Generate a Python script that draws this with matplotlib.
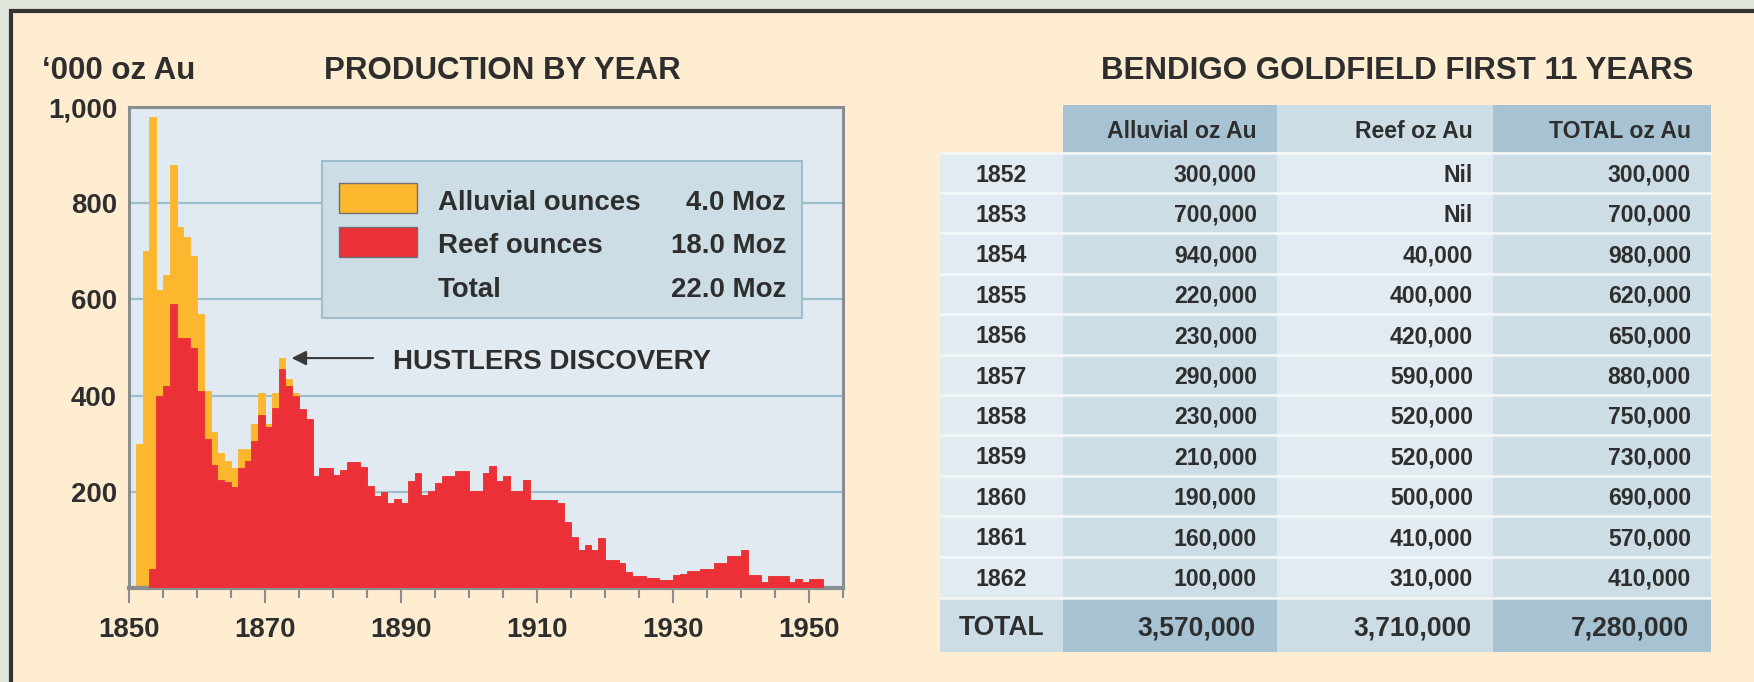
import matplotlib
matplotlib.use("Agg")
import matplotlib.pyplot as plt
from matplotlib import font_manager
from matplotlib.patches import Rectangle
import numpy as np

# the original uses a narrow bold face; fall back to a scaled-down Arial clone
_names = {f.name for f in font_manager.fontManager.ttflist}
if 'Liberation Sans Narrow' in _names:
    FAMILY, K, KT = 'Liberation Sans Narrow', 1.0, 1.0
else:
    FAMILY, K, KT = 'Liberation Sans', 0.865, 0.83
plt.rcParams['font.family'] = [FAMILY, 'DejaVu Sans']
plt.rcParams['font.weight'] = 'bold'

# --- production by year ('000 oz Au) ---
years = np.arange(1852, 1953)
reef = np.array([
    0, 0, 40, 400, 420, 590, 520, 520, 500, 410, 310,                 # 1852-1862
    255, 225, 220, 210, 250, 265, 305, 360, 335, 375, 455, 420, 400,  # 1863-1875
    372, 351,                                                         # 1876-1877
    233, 249, 249, 235, 245, 261, 261, 251, 212, 192, 200, 177,      # 1878-1889
    185, 176, 223, 240, 193, 202, 219, 233, 233, 243, 243,           # 1890-1900
    201, 201, 240, 254, 223, 233, 201, 201, 224, 183,                # 1901-1910
    183, 183, 183, 176, 137, 106, 78, 90, 80, 104,                   # 1911-1920
    59, 59, 52, 33, 24, 24, 21, 21, 16, 16,                          # 1921-1930
    26, 30, 36, 36, 40, 40, 52, 52, 67, 67,                          # 1931-1940
    78, 28, 26, 12, 25, 25, 25, 12, 19, 12, 19, 19,                  # 1941-1952
])
# alluvial only shows up until the late 1870s
alluvial_early = np.array([
    300, 700, 940, 220, 230, 290, 230, 210, 190, 160, 100,
    70, 55, 45, 40, 40, 25, 35, 45, 5, 30, 23, 15, 5, 0, 0,
])
hustlers_year = 1873

legend_labels = ['Alluvial ounces', 'Reef ounces', 'Total']
legend_values = ['4.0 Moz', '18.0 Moz', '22.0 Moz']

# --- first 11 years table ---
table_years = ['1852', '1853', '1854', '1855', '1856', '1857', '1858', '1859', '1860', '1861', '1862']
table_alluvial = [300000, 700000, 940000, 220000, 230000, 290000, 230000, 210000, 190000, 160000, 100000]
table_reef = [0, 0, 40000, 400000, 420000, 590000, 520000, 520000, 500000, 410000, 310000]
table_total = [300000, 700000, 980000, 620000, 650000, 880000, 750000, 730000, 690000, 570000, 410000]
table_sums = [3570000, 3710000, 7280000]
table_headers = ['Alluvial oz Au', 'Reef oz Au', 'TOTAL oz Au']

# colours
CREAM = '#feedd0'
OUTER = '#dfe5da'
FRAME = '#333333'
PLOT_BG = '#e1eaf0'
GRID = '#9ebdcd'
SPINE = '#8a8e90'
ORANGE = '#fcb72e'
RED = '#eb3038'
TEXT = '#2e2e2e'
DARK = '#a7c3d3'
MID = '#cddde6'
LIGHT = '#e2ebf1'

FS_TITLE = 26 * K
FS_LABEL = 23 * K
FS_TICK = 23 * K
FS_TABLE = 20 * KT
FS_TOTAL = 23 * KT

W, H = 1754, 682
fig = plt.figure(figsize=(W / 100, H / 100), dpi=100, facecolor=OUTER)

# background layer in pixel coordinates: frame, titles, table
bg = fig.add_axes([0, 0, 1, 1], zorder=0)
bg.set_xlim(0, W)
bg.set_ylim(H, 0)
bg.set_axis_off()
bg.add_patch(Rectangle((11, 11), W + 50, H + 50, fc=CREAM, ec=FRAME, lw=3))

bg.text(42, 79, '\u2018000 oz Au', ha='left', va='baseline', fontsize=FS_TITLE, color=TEXT)
bg.text(324, 79, 'PRODUCTION BY YEAR', ha='left', va='baseline', fontsize=FS_TITLE, color=TEXT)
bg.text(1397, 79, 'BENDIGO GOLDFIELD FIRST 11 YEARS', ha='center', va='baseline',
        fontsize=FS_TITLE, color=TEXT)

col_x = [940, 1063, 1277, 1493, 1711]
row_top, row_h = 153, 40.4
head_top, head_bot = 105, 152
tot_top, tot_bot = 599, 652

head_cols = [None, DARK, MID, DARK]
row_cols = [LIGHT, MID, LIGHT, MID]
tot_cols = [MID, DARK, MID, DARK]
n_rows = len(table_years)

for j in range(4):
    x0, x1 = col_x[j], col_x[j + 1]
    if head_cols[j]:
        bg.add_patch(Rectangle((x0, head_top), x1 - x0, head_bot - head_top, fc=head_cols[j], lw=0))
    bg.add_patch(Rectangle((x0, row_top), x1 - x0, row_h * n_rows, fc=row_cols[j], lw=0))
    bg.add_patch(Rectangle((x0, tot_top), x1 - x0, tot_bot - tot_top, fc=tot_cols[j], lw=0))

sep_y = [row_top - 0.5 + row_h * i for i in range(n_rows)] + [tot_top - 1]
bg.hlines(sep_y, col_x[0], col_x[-1], color='#f4f7f9', lw=1.8)

cap = 0.36 * FS_TABLE * 100 / 72   # half cap height in px
for j, h in enumerate(table_headers):
    bg.text(col_x[j + 2] - 20, (head_top + head_bot) / 2 + cap + 1, h, ha='right', va='baseline',
            fontsize=FS_TABLE, color=TEXT)

def fmt(v):
    return 'Nil' if v == 0 else f'{v:,}'

for i in range(n_rows):
    base = row_top + row_h * i + row_h / 2 + cap
    bg.text((col_x[0] + col_x[1]) / 2, base, table_years[i], ha='center', va='baseline',
            fontsize=FS_TABLE, color=TEXT)
    for j, col in enumerate([table_alluvial, table_reef, table_total]):
        bg.text(col_x[j + 2] - 20, base, fmt(col[i]), ha='right', va='baseline',
                fontsize=FS_TABLE, color=TEXT)

base = (tot_top + tot_bot) / 2 + 0.36 * FS_TOTAL * 100 / 72
bg.text((col_x[0] + col_x[1]) / 2, base, 'TOTAL', ha='center', va='baseline',
        fontsize=FS_TOTAL, color=TEXT)
for j, v in enumerate(table_sums):
    bg.text(col_x[j + 2] - 22, base, fmt(v), ha='right', va='baseline',
            fontsize=FS_TOTAL, color=TEXT)

# bar chart
ax = fig.add_axes([129 / W, 1 - 588 / H, 714 / W, 481 / H], zorder=2)
ax.set_facecolor(PLOT_BG)
ax.set_xlim(1850, 1955)
ax.set_ylim(0, 1000)

for y in (200, 400, 600, 800):
    ax.axhline(y, color=GRID, lw=1.6, zorder=0)

alluvial = np.zeros(len(years))
alluvial[:len(alluvial_early)] = alluvial_early
total = reef + alluvial

ax.bar(years - 1, total, width=1, align='edge', color=ORANGE, ec=ORANGE, lw=0.6, zorder=2)
ax.bar(years - 1, reef, width=1, align='edge', color=RED, ec=RED, lw=0.6, zorder=3)

for s in ax.spines.values():
    s.set_color(SPINE)
    s.set_linewidth(2.2)
ax.spines['bottom'].set_linewidth(3)

ax.set_xticks(np.arange(1850, 1951, 20))
ax.set_xticks(np.arange(1850, 1956, 5), minor=True)
ax.tick_params(axis='x', which='major', length=11, width=1.5, color=SPINE,
               labelsize=FS_TICK, labelcolor=TEXT, pad=10)
ax.tick_params(axis='x', which='minor', length=7, width=1.5, color=SPINE)
ax.set_yticks([200, 400, 600, 800, 1000])
ax.set_yticklabels(['200', '400', '600', '800', '1,000'])
ax.tick_params(axis='y', length=0, pad=8.6, labelsize=FS_TICK, labelcolor=TEXT)

# legend box
ax.add_patch(Rectangle((0.270, 0.561), 0.673, 0.326, transform=ax.transAxes,
                       fc=MID, ec=GRID, lw=1.5, zorder=5))
ax.add_patch(Rectangle((0.294, 0.780), 0.109, 0.062, transform=ax.transAxes,
                       fc=ORANGE, ec='#6e6e6e', lw=1, zorder=6))
ax.add_patch(Rectangle((0.294, 0.688), 0.109, 0.062, transform=ax.transAxes,
                       fc=RED, ec='#6e6e6e', lw=1, zorder=6))
half = 0.36 * FS_LABEL * 100 / 72 / 481   # half cap height, axes fraction
for lab, val, yy in zip(legend_labels, legend_values, [0.807, 0.717, 0.626]):
    ax.text(0.433, yy - half, lab, transform=ax.transAxes, ha='left', va='baseline',
            fontsize=FS_LABEL, color=TEXT, zorder=7)
    ax.text(0.920, yy - half, val, transform=ax.transAxes, ha='right', va='baseline',
            fontsize=FS_LABEL, color=TEXT, zorder=7)

# Hustlers discovery pointer
peak = total[years == hustlers_year][0]
ax.annotate('', xy=(hustlers_year + 0.5, peak), xytext=(hustlers_year + 13.3, peak),
            arrowprops=dict(arrowstyle='-|>', color='#3a3a3a', lw=1.5, mutation_scale=22),
            zorder=6)
ax.text(hustlers_year + 15.8, peak - 2 - half * 1000, 'HUSTLERS DISCOVERY', ha='left', va='baseline',
        fontsize=FS_LABEL, color=TEXT, zorder=6)

fig.savefig('out.png', dpi=100, facecolor=fig.get_facecolor())
